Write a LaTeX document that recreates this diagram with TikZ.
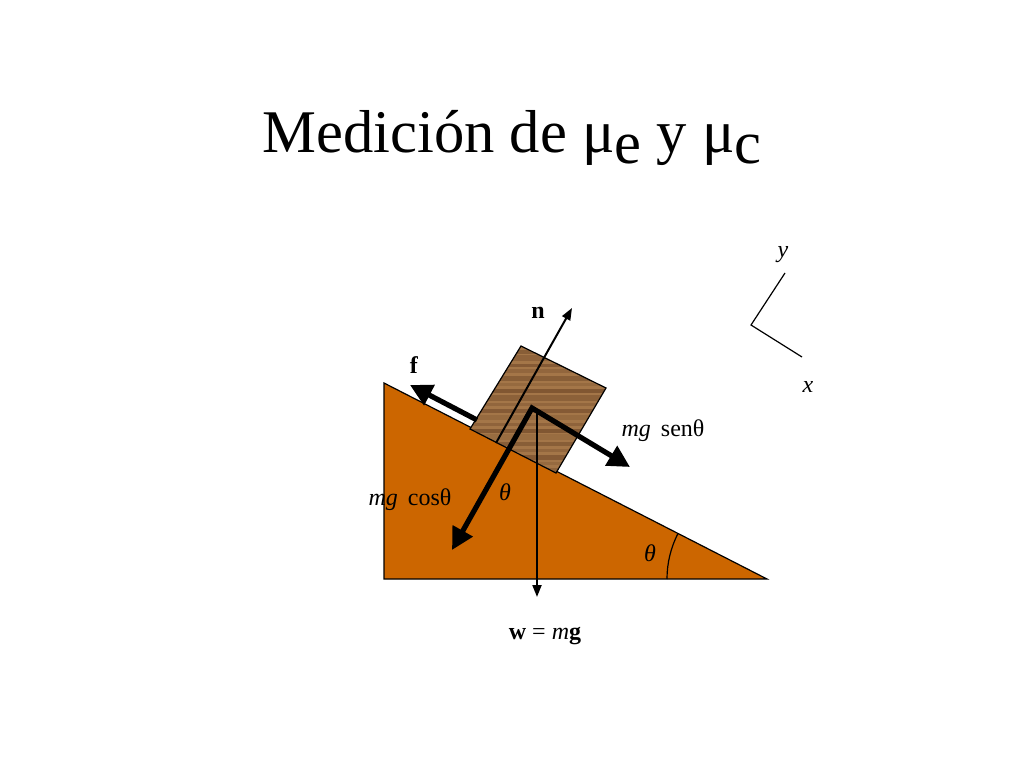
\documentclass[tikz,border=0pt]{standalone}
\usepackage{fontspec}
\setmainfont{Liberation Serif}
\usetikzlibrary{calc,arrows.meta}
\definecolor{helling}{RGB}{204,102,0}
\definecolor{hout}{RGB}{164,118,72}
\definecolor{nerf}{RGB}{96,58,30}
\newcommand{\onder}[1]{\raisebox{-0.19em}{#1}}

\begin{document}
\begin{tikzpicture}[x=0.5pt,y=0.5pt,
    dik/.style={line width=2.6pt,line join=miter,{Triangle[length=11pt,width=11pt]}-{Triangle[length=11pt,width=11pt]}},
    dikeen/.style={line width=2.6pt,-{Triangle[length=11pt,width=11pt]}},
    dun/.style={line width=1pt,-{Triangle[length=6pt,width=4.5pt]}},
    bijschrift/.style={font=\fontsize{12}{14}\selectfont,inner sep=0pt}]
  \fill[white] (0,0) rectangle (1024,768);
  \useasboundingbox (0,0) rectangle (1024,768);
  \node[font=\fontsize{30.3}{36}\selectfont,anchor=base] (titel) at (512,616) {Medición de μ\onder{e} y μ\onder{c}};
  % helling
  \coordinate (A) at (384,385);
  \coordinate (B) at (384,189);
  \coordinate (C) at (767,189);
  \draw[fill=helling,line width=0.6pt] (A) -- (B) -- (C) -- cycle;
  \draw[line width=0.6pt] ($(C)+(180:100)$) arc (180:152.9:100);
  % blok
  \coordinate (K1) at (470,339);
  \coordinate (K2) at (556,295);
  \coordinate (K3) at (606,380);
  \coordinate (K4) at (521,422);
  \begin{scope}
    \clip (K1) -- (K2) -- (K3) -- (K4) -- cycle;
    \fill[hout] (460,290) rectangle (610,430);
    \foreach \h/\o/\d in {298/.35/2,305/.2/1.5,311/.45/2.5,318/.25/1.5,324/.4/2,
        331/.15/3,337/.5/2,344/.3/1.5,351/.2/2.5,357/.45/2,364/.25/1.5,
        370/.35/3,377/.5/2,384/.2/1.5,390/.4/2.5,397/.25/2,403/.45/1.5,
        410/.3/3,416/.4/2}{
      \draw[nerf,opacity=\o,line width=\d pt] (460,\h) -- (610,\h);
    }
  \end{scope}
  \draw[line width=0.6pt] (K1) -- (K2) -- (K3) -- (K4) -- cycle;
  % krachten
  \coordinate (O) at (532,360);
  \coordinate (Ow) at (537,358);
  \coordinate (Wtip) at (537,171);
  \coordinate (Nvoet) at (496,325);
  \coordinate (Ntip) at (572,460);
  \coordinate (Fvoet) at (477,348);
  \coordinate (Ftip) at (410,383);
  \coordinate (Stip) at (630,301);
  \coordinate (Ctip) at (452,218);
  \draw[dun] (Nvoet) -- (Ntip);
  \draw[dun] (Ow) -- (Wtip);
  \draw[dikeen] (Fvoet) -- (Ftip);
  \draw[dik] (Ctip) -- (O) -- (Stip);
  \node[bijschrift] (n) at (538,455) {\textbf{n}};
  \node[bijschrift] (f) at (414,403) {\textbf{f}};
  \node[bijschrift] (sen) at (663,337) {\textit{mg}\, senθ};
  \node[bijschrift] (cos) at (410,268) {\textit{mg}\, cosθ};
  \node[bijschrift] (th1) at (505,276) {\textit{θ}};
  \node[bijschrift] (th2) at (650,215) {\textit{θ}};
  \node[bijschrift] (w) at (545,132) {\textbf{w} = \textit{m}\textbf{g}};
  % assen
  \coordinate (Ah) at (751,443);
  \coordinate (Ay) at (785,495);
  \coordinate (Ax) at (802,411);
  \draw[line width=0.6pt] (Ay) -- (Ah) -- (Ax);
  \node[bijschrift] (y) at (783,513) {\textit{y}};
  \node[bijschrift] (x) at (808,381) {\textit{x}};
\end{tikzpicture}
\end{document}
